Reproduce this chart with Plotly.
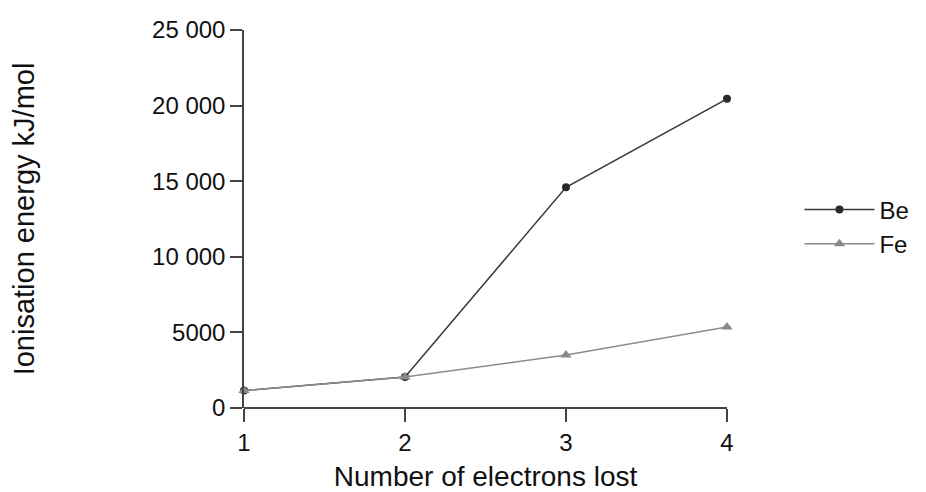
import plotly.graph_objects as go

electrons = [1, 2, 3, 4]
be_energy = [1150, 2050, 14600, 20450]
fe_energy = [1150, 2050, 3500, 5350]
y_tickvals = [0, 5000, 10000, 15000, 20000, 25000]
y_ticktext = ["0", "5000", "10 000", "15 000", "20 000", "25 000"]

font = "Liberation Sans, Arial, sans-serif"

fig = go.Figure()
fig.add_trace(go.Scatter(
    x=electrons, y=be_energy, name="Be", mode="lines+markers",
    line=dict(color="#3a3a3a", width=1.5),
    marker=dict(symbol="circle", size=8, color="#2a2a2a"),
    cliponaxis=False,
))
fig.add_trace(go.Scatter(
    x=electrons, y=fe_energy, name="Fe", mode="lines+markers",
    line=dict(color="#8c8c8c", width=1.5),
    marker=dict(symbol="triangle-up", size=10, color="#8a8a8a"),
    cliponaxis=False,
))

fig.update_layout(
    width=918, height=484,
    margin=dict(l=236, r=197, t=22, b=84),
    paper_bgcolor="white", plot_bgcolor="white",
    font=dict(family=font, size=24, color="#111111"),
    showlegend=True,
    legend=dict(x=1.15, y=0.479, xanchor="left", yanchor="middle",
                font=dict(size=24), itemwidth=70, tracegroupgap=0,
                borderwidth=0, bgcolor="rgba(0,0,0,0)"),
    xaxis=dict(
        range=[1, 4], tickvals=electrons, showgrid=False, zeroline=False,
        showline=False, ticks="outside", ticklen=13, tickcolor="#444",
        tickwidth=1.5, tickfont=dict(size=24),
        title=dict(text="Number of electrons lost", font=dict(size=28), standoff=19),
        automargin=False,
    ),
    yaxis=dict(
        range=[0, 25000], tickvals=y_tickvals, ticktext=y_ticktext,
        showgrid=False, zeroline=True, zerolinecolor="#444", zerolinewidth=1.5,
        showline=True, linecolor="#444", linewidth=1.5,
        ticks="outside", ticklen=12, tickcolor="#444", tickwidth=1.5,
        tickfont=dict(size=24),
        title=dict(text="Ionisation energy kJ/mol", font=dict(size=29), standoff=118),
        automargin=False,
    ),
)

fig.write_html("out.html")
